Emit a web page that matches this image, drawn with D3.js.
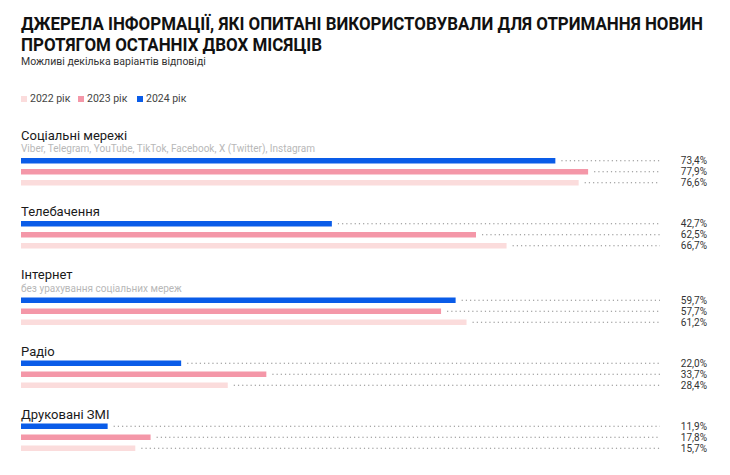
<!DOCTYPE html>
<html>
<head>
<meta charset="utf-8">
<script src="https://cdn.jsdelivr.net/npm/d3@7"></script>
<style>
  body { margin: 0; background: #fff; }
  text { font-family: Roboto, "Noto Sans", sans-serif; }
</style>
</head>
<body>
<div class="chart"></div>
<script>
var categories = ["Соціальні мережі", "Телебачення", "Інтернет", "Радіо", "Друковані ЗМІ"];
var notes = ["Viber, Telegram, YouTube, TikTok, Facebook, X (Twitter), Instagram", "", "без урахування соціальних мереж", "", ""];
var years = ["2024 рік", "2023 рік", "2022 рік"];
var values2024 = [73.4, 42.7, 59.7, 22.0, 11.9];
var values2023 = [77.9, 62.5, 57.7, 33.7, 17.8];
var values2022 = [76.6, 66.7, 61.2, 28.4, 15.7];
var legendYears = ["2022 рік", "2023 рік", "2024 рік"];

var width = 730, height = 475;
var colors = { "2024 рік": "#0a5ce8", "2023 рік": "#f497a8", "2022 рік": "#fbdcdc" };

var svg = d3.select(".chart").append("svg")
    .attr("width", width)
    .attr("height", height);

// title, two lines squeezed to the reference widths
var titleLines = [
    { text: "ДЖЕРЕЛА ІНФОРМАЦІЇ, ЯКІ ОПИТАНІ ВИКОРИСТОВУВАЛИ ДЛЯ ОТРИМАННЯ НОВИН", y: 30, w: 682 },
    { text: "ПРОТЯГОМ ОСТАННІХ ДВОХ МІСЯЦІВ", y: 50.5, w: 301 }
];
titleLines.forEach(function(l) {
    var t = svg.append("text")
        .attr("x", 21)
        .attr("y", l.y)
        .attr("font-size", 17.5)
        .attr("font-weight", 700)
        .attr("fill", "#111")
        .text(l.text);
    t.attr("textLength", l.w).attr("lengthAdjust", "spacingAndGlyphs");
});

svg.append("text")
    .attr("x", 21)
    .attr("y", 65)
    .attr("font-size", 10.5)
    .attr("fill", "#333")
    .text("Можливі декілька варіантів відповіді");

// legend
var legendX = [21, 78, 137];
var legend = svg.selectAll(".legend")
    .data(legendYears)
    .enter().append("g")
    .attr("class", "legend")
    .attr("transform", function(d, i) { return "translate(" + legendX[i] + ",96)"; });

legend.append("rect")
    .attr("width", 6)
    .attr("height", 6)
    .attr("fill", function(d) { return colors[d]; });

legend.append("text")
    .attr("x", 9)
    .attr("y", 6)
    .attr("font-size", 10.5)
    .attr("fill", "#444")
    .text(function(d) { return d; });

// bars
var x = d3.scaleLinear().domain([0, 100]).range([21, 749]);
var band = d3.scaleBand().domain(years).range([0, 27.5]).paddingInner(0.5).paddingOuter(0);

var rows = categories.map(function(c, i) {
    return {
        name: c,
        note: notes[i],
        vals: [
            { year: "2024 рік", v: values2024[i] },
            { year: "2023 рік", v: values2023[i] },
            { year: "2022 рік", v: values2022[i] }
        ]
    };
});

// stack groups vertically
var baseline = 139.5;
rows.forEach(function(r) {
    r.labelY = baseline;
    r.barsY = r.note ? baseline + 18.5 : baseline + 5;
    baseline = r.barsY + 58;
});

var group = svg.selectAll(".group")
    .data(rows)
    .enter().append("g")
    .attr("class", "group");

group.append("text")
    .attr("x", 21)
    .attr("y", function(d) { return d.labelY; })
    .attr("font-size", 13)
    .attr("fill", "#1a1a1a")
    .text(function(d) { return d.name; });

group.filter(function(d) { return d.note; }).append("text")
    .attr("x", 21)
    .attr("y", function(d) { return d.labelY + 12.5; })
    .attr("font-size", 10)
    .attr("fill", "#b8b8b8")
    .text(function(d) { return d.note; });

var bar = group.selectAll(".bar")
    .data(function(d) { return d.vals.map(function(v) { return { year: v.year, v: v.v, top: d.barsY }; }); })
    .enter().append("g")
    .attr("class", "bar");

bar.append("rect")
    .attr("x", x(0))
    .attr("y", function(d) { return d.top + band(d.year); })
    .attr("width", function(d) { return x(d.v) - x(0); })
    .attr("height", band.bandwidth())
    .attr("fill", function(d) { return colors[d.year]; });

bar.append("line")
    .attr("x1", function(d) { return x(d.v) + 6; })
    .attr("x2", 660)
    .attr("y1", function(d) { return d.top + band(d.year) + band.bandwidth() / 2; })
    .attr("y2", function(d) { return d.top + band(d.year) + band.bandwidth() / 2; })
    .attr("stroke", "#8a8a8a")
    .attr("stroke-width", 1.2)
    .attr("stroke-dasharray", "1.2,3");

bar.append("text")
    .attr("x", 707)
    .attr("y", function(d) { return d.top + band(d.year) + band.bandwidth() / 2; })
    .attr("dy", "0.35em")
    .attr("text-anchor", "end")
    .attr("font-size", 10)
    .attr("fill", "#333")
    .text(function(d) { return d.v.toFixed(1).replace(".", ",") + "%"; });
</script>
</body>
</html>
